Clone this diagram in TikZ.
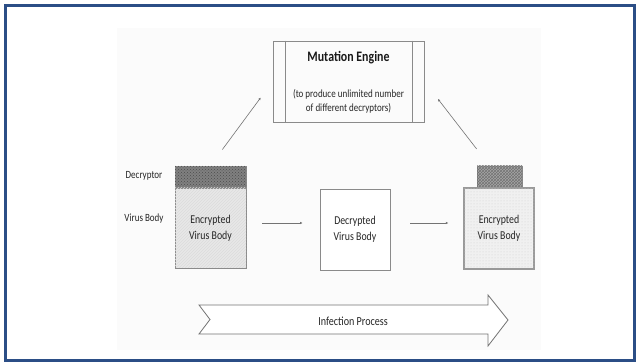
\documentclass[tikz,border=0pt]{standalone}
\usepackage{fontspec}
\setmainfont{Carlito}
\usepackage{graphicx}
\usetikzlibrary{patterns,arrows.meta}

\definecolor{frameblue}{HTML}{2B4E86}
\definecolor{linegray}{HTML}{8A8A8A}
\definecolor{bggray}{HTML}{FBFBFB}
\newcommand{\nar}[1]{\scalebox{0.82}[1]{#1}}

\begin{document}
\begin{tikzpicture}[x=1pt, y=-1pt,
	box/.style={draw=linegray, line width=0.8pt, inner sep=0pt, align=center,
		font=\fontsize{12}{16}\selectfont, text=black!85},
	flow/.style={draw=black!55, line width=0.6pt, -{Latex[length=2.5pt,width=2.5pt]}},
	lbl/.style={font=\fontsize{11}{13}\selectfont, text=black!85}]
	\useasboundingbox (0, 0) rectangle (638, 363);
	\fill[white] (0, 0) rectangle (638, 363);
	\fill[bggray] (117, 28) rectangle (541, 350);
	\draw[frameblue, line width=3pt] (5.5, 5.5) rectangle (634.5, 360.5);

	% mutation engine
	\node[box, minimum width=151pt, minimum height=81pt] (mut) at (348.5, 81.5) {};
	\draw[linegray, line width=0.8pt] ([xshift=12.5pt]mut.north west) -- ([xshift=12.5pt]mut.south west);
	\draw[linegray, line width=0.8pt] ([xshift=-12.5pt]mut.north east) -- ([xshift=-12.5pt]mut.south east);
	\node[font=\fontsize{14.5}{16}\selectfont\bfseries, text=black!90] (mtitle) at (348.5, 58) {\nar{Mutation Engine}};
	\node[lbl, align=center, font=\fontsize{11}{14}\selectfont] (mdesc) at (348.5, 101) {\nar{(to produce unlimited number}\\\nar{of different decryptors)}};

	% left block
	\node[box, minimum width=71pt, minimum height=22pt, fill=black!50,
		postaction={pattern=crosshatch dots, pattern color=black!70}] (decr) at (210.5, 177) {};
	\node[box, minimum width=71pt, minimum height=80pt, fill=black!9,
		postaction={pattern=north east lines, pattern color=black!14}] (encl) at (210.5, 228)
		{\nar{Encrypted}\\\nar{Virus Body}};
	\node[lbl] (declbl) at (144, 176) {\nar{Decryptor}};
	\node[lbl] (vblbl) at (144, 219) {\nar{Virus Body}};

	% middle block
	\node[box, minimum width=70pt, minimum height=81pt, fill=white] (decb) at (355, 229.5)
		{\nar{Decrypted}\\\nar{Virus Body}};

	% right block
	\node[box, minimum width=45pt, minimum height=22pt, fill=black!35,
		postaction={pattern=crosshatch, pattern color=black!55}] (cap) at (499.5, 177) {};
	\node[box, draw=black!40, line width=1.2pt, minimum width=70pt, minimum height=81pt, fill=black!6,
		postaction={pattern=dots, pattern color=black!18}] (encr) at (499, 228.5)
		{\nar{Encrypted}\\\nar{Virus Body}};

	% arrows
	\draw[flow, shorten <=16pt, shorten >=17pt] ([yshift=5pt]encl.east) -- ([yshift=5pt]encl.east -| decb.west);
	\draw[flow, shorten <=20pt, shorten >=15pt] ([yshift=6.5pt]decb.east) -- ([yshift=6.5pt]decb.east -| encr.west);
	\draw[flow, shorten <=20pt, shorten >=20pt] (decr.north) -- (mut.west);
	\draw[flow, shorten <=21pt, shorten >=22pt] ([xshift=-10pt]cap.north) -- (mut.east);

	% infection process
	\draw[black!55, line width=0.8pt, fill=white] (199, 305) -- (488, 305) -- (488, 295) -- (508, 320)
		-- (488, 346) -- (488, 334) -- (199, 334) -- (210, 319.5) -- cycle;
	\node[font=\fontsize{12.3}{14}\selectfont, text=black!85] (infect) at (353, 321) {\nar{Infection Process}};
\end{tikzpicture}
\end{document}
